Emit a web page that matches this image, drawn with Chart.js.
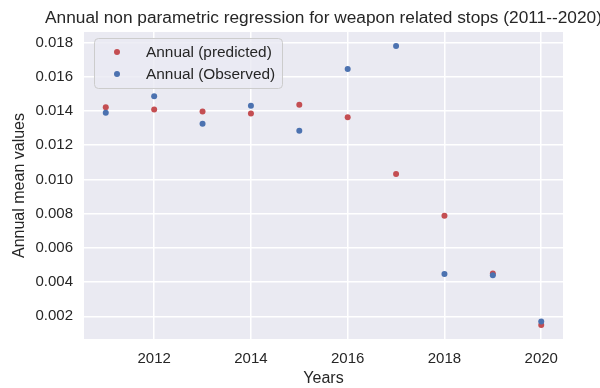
<!DOCTYPE html>
<html>
<head>
<meta charset="utf-8">
<script src="https://cdn.jsdelivr.net/npm/chart.js@4/dist/chart.umd.min.js"></script>
<style>
  html, body { margin: 0; padding: 0; background: #ffffff; }
  #wrap { width: 600px; height: 388px; }
</style>
</head>
<body>
<div id="wrap"><canvas id="c" width="600" height="388"></canvas></div>
<script>
// Annual means of weapon related stops
const years = [2011, 2012, 2013, 2014, 2015, 2016, 2017, 2018, 2019, 2020];
const predicted = [0.01422, 0.01409, 0.01397, 0.01385, 0.01436, 0.01364, 0.01032, 0.00788, 0.00450, 0.00149];
const observed  = [0.01390, 0.01486, 0.01326, 0.01430, 0.01285, 0.01645, 0.01780, 0.00447, 0.00440, 0.00169];

const seriesLabels = ['Annual (predicted)', 'Annual (Observed)'];
const xTicks = [2012, 2014, 2016, 2018, 2020];
const yTicks = [0.002, 0.004, 0.006, 0.008, 0.010, 0.012, 0.014, 0.016, 0.018];
const titleText = 'Annual non parametric regression for weapon related stops (2011--2020)';
const xTitle = 'Years';
const yTitle = 'Annual mean values';

const RED = '#C44E52';
const BLUE = '#4C72B0';
const INK = '#262626';
const FONT = '"Liberation Sans", Arial, Helvetica, sans-serif';

// axis limits padded by 5% of the data span on each side
function padded(vals) {
  const lo = Math.min(...vals), hi = Math.max(...vals);
  const m = (hi - lo) * 0.05;
  return [lo - m, hi + m];
}
const [xMin, xMax] = padded(years);
const [yMin, yMax] = padded(predicted.concat(observed));

Chart.defaults.font.family = FONT;

const panelBackground = {
  id: 'panelBackground',
  beforeDraw(chart) {
    const { ctx, chartArea: a } = chart;
    ctx.save();
    ctx.fillStyle = '#EAEAF2';
    ctx.fillRect(a.left, a.top, a.right - a.left, a.bottom - a.top);
    ctx.restore();
  }
};

// title centred over the plot panel; it may run past the right edge
const headline = {
  id: 'headline',
  afterDraw(chart) {
    const { ctx, chartArea: a } = chart;
    ctx.save();
    ctx.fillStyle = INK;
    ctx.font = '17.3px ' + FONT;
    ctx.textAlign = 'center';
    ctx.textBaseline = 'alphabetic';
    ctx.fillText(titleText, (a.left + a.right) / 2, 23);
    ctx.restore();
  }
};

const insetLegend = {
  id: 'insetLegend',
  afterDatasetsDraw(chart) {
    const { ctx } = chart;
    const x = 94.5, y = 38.5, w = 188, h = 50, r = 4;
    ctx.save();
    ctx.beginPath();
    ctx.roundRect(x, y, w, h, r);
    ctx.fillStyle = 'rgba(234,234,242,0.8)';
    ctx.fill();
    ctx.strokeStyle = '#CCCCCC';
    ctx.lineWidth = 1;
    ctx.stroke();
    ctx.font = '15.4px ' + FONT;
    ctx.textAlign = 'left';
    ctx.textBaseline = 'middle';
    chart.data.datasets.forEach((ds, i) => {
      const cy = 52 + i * 22;
      ctx.beginPath();
      ctx.arc(117, cy, 3, 0, Math.PI * 2);
      ctx.fillStyle = ds.backgroundColor;
      ctx.fill();
      ctx.fillStyle = INK;
      ctx.fillText(ds.label, 146, cy + 1);
    });
    ctx.restore();
  }
};

new Chart(document.getElementById('c'), {
  type: 'scatter',
  data: {
    datasets: [
      {
        label: seriesLabels[0],
        data: years.map((yr, i) => ({ x: yr, y: predicted[i] })),
        backgroundColor: RED,
        borderColor: RED,
        borderWidth: 0,
        pointRadius: 3,
        order: 2
      },
      {
        label: seriesLabels[1],
        data: years.map((yr, i) => ({ x: yr, y: observed[i] })),
        backgroundColor: BLUE,
        borderColor: BLUE,
        borderWidth: 0,
        pointRadius: 3,
        order: 1
      }
    ]
  },
  options: {
    responsive: false,
    animation: false,
    devicePixelRatio: 1,
    layout: { padding: { top: 32, right: 37, left: 0, bottom: 0 } },
    plugins: {
      legend: { display: false },
      title: { display: false },
      tooltip: { enabled: false }
    },
    scales: {
      x: {
        type: 'linear',
        position: 'bottom',
        min: xMin,
        max: xMax,
        afterBuildTicks: s => { s.ticks = xTicks.map(v => ({ value: v })); },
        afterFit: s => { s.height = 49; },
        ticks: {
          color: INK,
          font: { size: 15 },
          padding: 11,
          maxRotation: 0,
          callback: v => String(v)
        },
        grid: { color: '#FFFFFF', lineWidth: 1.5, drawTicks: false },
        border: { display: false },
        title: {
          display: true,
          text: xTitle,
          color: INK,
          font: { size: 16 },
          padding: { top: 0, bottom: 0 }
        }
      },
      y: {
        type: 'linear',
        position: 'left',
        min: yMin,
        max: yMax,
        afterBuildTicks: s => { s.ticks = yTicks.map(v => ({ value: v })); },
        afterFit: s => { s.width = 84; },
        ticks: {
          color: INK,
          font: { size: 15 },
          padding: 11,
          callback: v => v.toFixed(3)
        },
        grid: { color: '#FFFFFF', lineWidth: 1.5, drawTicks: false },
        border: { display: false },
        title: {
          display: true,
          text: yTitle,
          color: INK,
          font: { size: 16 },
          padding: { top: 10, bottom: 0 }
        }
      }
    }
  },
  plugins: [panelBackground, headline, insetLegend]
});
</script>
</body>
</html>
